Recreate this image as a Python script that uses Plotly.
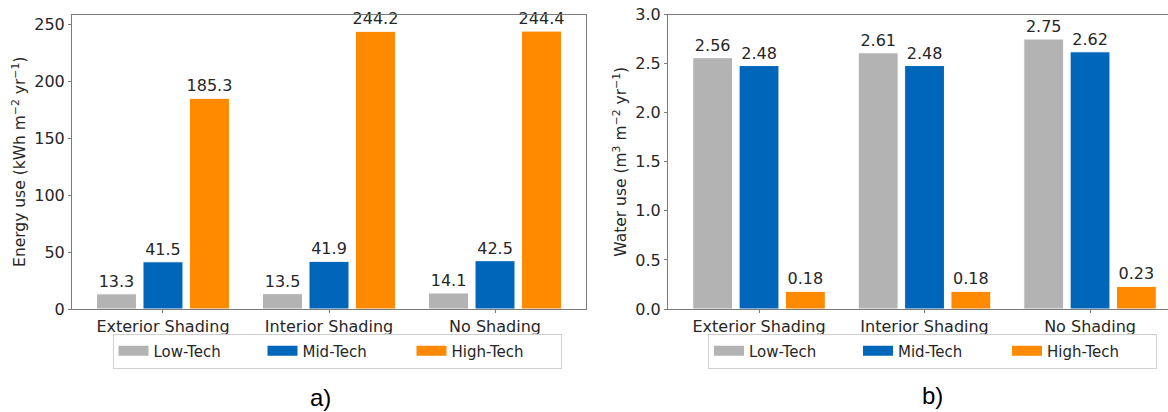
import plotly.graph_objects as go

categories = ["Exterior Shading", "Interior Shading", "No Shading"]
series_names = ["Low-Tech", "Mid-Tech", "High-Tech"]
energy_low = [13.3, 13.5, 14.1]
energy_mid = [41.5, 41.9, 42.5]
energy_high = [185.3, 244.2, 244.4]
water_low = [2.56, 2.61, 2.75]
water_mid = [2.48, 2.48, 2.62]
water_high = [0.18, 0.18, 0.23]
energy_ticks = [0, 50, 100, 150, 200, 250]
water_ticks = [0.0, 0.5, 1.0, 1.5, 2.0, 2.5, 3.0]

colors = ["#b3b3b3", "#0066b9", "#ff8a00"]
FONT = "DejaVu Sans"
TXT = "#262626"

fig = go.Figure()

energy = [energy_low, energy_mid, energy_high]
water = [water_low, water_mid, water_high]

for name, vals, c in zip(series_names, energy, colors):
    fig.add_trace(go.Bar(
        x=categories, y=vals, name=name, marker=dict(color=c, line=dict(color="white", width=1)),
        text=[f"{v:.1f}" for v in vals], textposition="outside", constraintext="none",
        cliponaxis=False, textfont=dict(family=FONT, size=16, color=TXT),
        xaxis="x", yaxis="y", showlegend=False, offsetgroup=name))

for name, vals, c in zip(series_names, water, colors):
    fig.add_trace(go.Bar(
        x=categories, y=vals, name=name, marker=dict(color=c, line=dict(color="white", width=1)),
        text=[f"{v:.2f}" for v in vals], textposition="outside", constraintext="none",
        cliponaxis=False, textfont=dict(family=FONT, size=16, color=TXT),
        xaxis="x2", yaxis="y2", showlegend=False, offsetgroup=name))

# legend entries (wide rectangular swatches like the original)
for name, c in zip(series_names, colors):
    fig.add_trace(go.Scatter(x=[None], y=[None], mode="lines", line=dict(color=c, width=10),
                             name=name, legend="legend", xaxis="x", yaxis="y", hoverinfo="skip"))
    fig.add_trace(go.Scatter(x=[None], y=[None], mode="lines", line=dict(color=c, width=10),
                             name=name, legend="legend2", xaxis="x2", yaxis="y2", hoverinfo="skip"))

axis_common = dict(showgrid=False, zeroline=False, showline=True, linecolor="#7a7a7a", linewidth=1,
                   ticks="outside", ticklen=3, tickcolor="#7a7a7a", automargin=False,
                   tickfont=dict(family=FONT, size=16, color=TXT))

fig.update_layout(
    width=1168, height=412,
    margin=dict(l=0, r=0, t=0, b=0, autoexpand=False),
    paper_bgcolor="white", plot_bgcolor="white",
    barmode="group", bargap=0.16, bargroupgap=0.14,
    font=dict(family=FONT, color=TXT),
    xaxis=dict(domain=[72 / 1168, 586 / 1168], range=[-0.548, 2.548], mirror=True,
               type="category", anchor="y", **axis_common),
    yaxis=dict(domain=[0.25, 0.9648], range=[0, 259], tickvals=energy_ticks, mirror=True,
               anchor="x",
               title=dict(text="Energy use (kWh m<sup>−2</sup> yr<sup>−1</sup>)", standoff=4,
                          font=dict(family=FONT, size=15.5, color=TXT)),
               **axis_common),
    xaxis2=dict(domain=[668 / 1168, 1.0], range=[-0.55, 2.471], mirror=True,
                type="category", anchor="y2", **axis_common),
    yaxis2=dict(domain=[0.25, 0.9648], range=[0, 3.0], tickvals=water_ticks, tickformat=".1f",
                anchor="x2",
                title=dict(text="Water use (m<sup>3</sup> m<sup>−2</sup> yr<sup>−1</sup>)", standoff=4,
                           font=dict(family=FONT, size=15.5, color=TXT)),
                **axis_common),
    legend=dict(orientation="h", x=337 / 1168, xanchor="center", y=(412 - 351) / 412, yanchor="middle",
                bgcolor="white", bordercolor="#d0d0d0", borderwidth=1,
                font=dict(family=FONT, size=15, color=TXT), entrywidthmode="pixels", entrywidth=104),
    legend2=dict(orientation="h", x=932.5 / 1168, xanchor="center", y=(412 - 351) / 412, yanchor="middle",
                 bgcolor="white", bordercolor="#d0d0d0", borderwidth=1,
                 font=dict(family=FONT, size=15, color=TXT), entrywidthmode="pixels", entrywidth=104),
    annotations=[
        dict(text="a)", x=320 / 1168, y=(412 - 397) / 412, xref="paper", yref="paper",
             showarrow=False, font=dict(family="Liberation Sans", size=24, color="black"),
             xanchor="center", yanchor="middle"),
        dict(text="b)", x=933 / 1168, y=(412 - 395) / 412, xref="paper", yref="paper",
             showarrow=False, font=dict(family="Liberation Sans", size=24, color="black"),
             xanchor="center", yanchor="middle"),
    ],
)

fig.write_html("out.html", config={"displayModeBar": False},
               post_script="document.body.style.margin='0';")
